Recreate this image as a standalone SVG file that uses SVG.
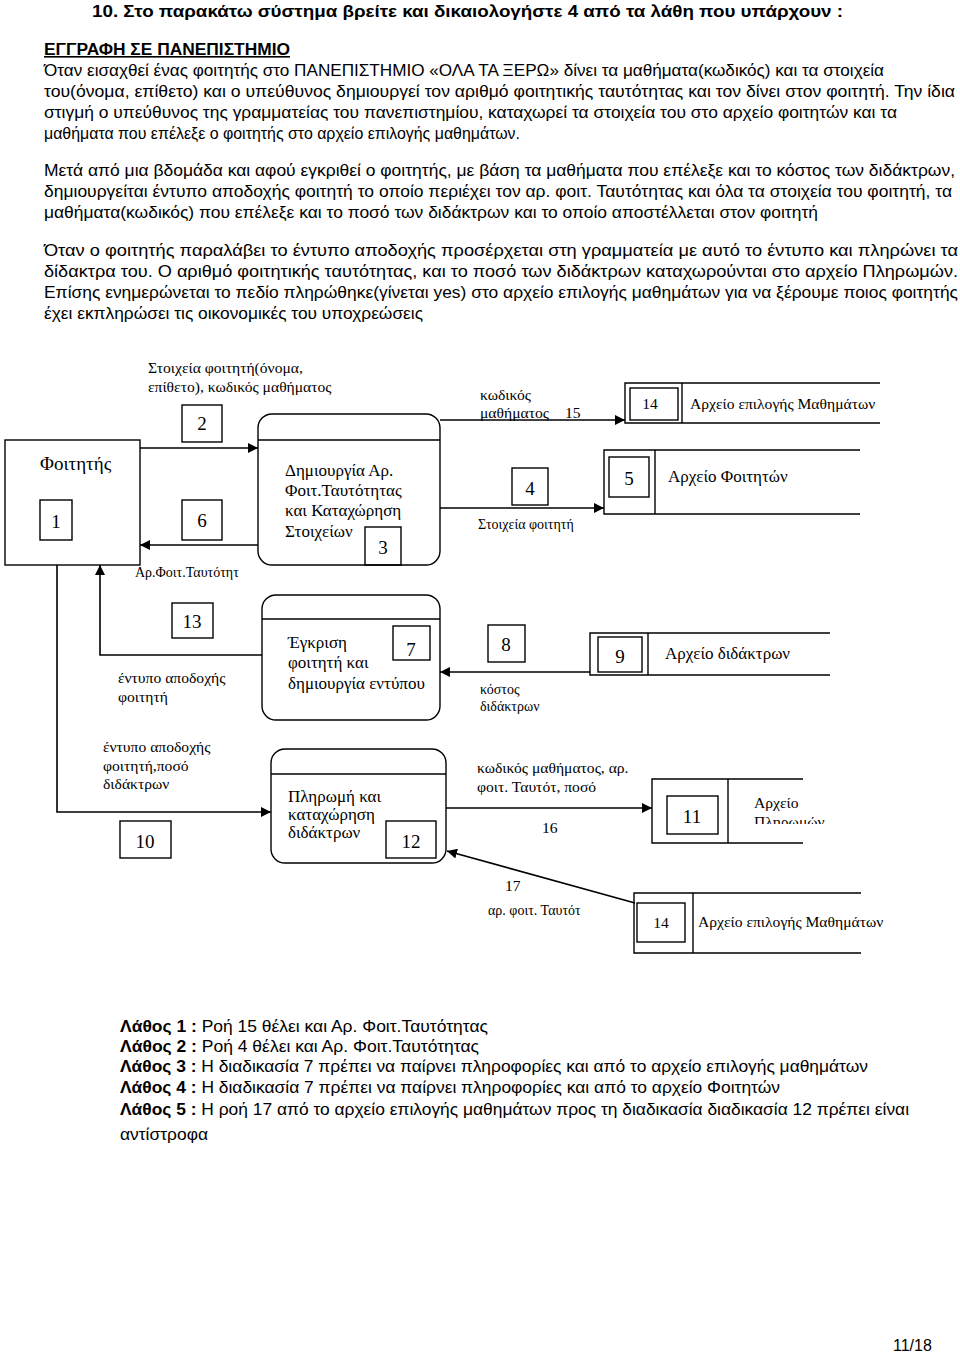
<svg xmlns="http://www.w3.org/2000/svg" width="960" height="1357" viewBox="0 0 960 1357">
<defs>
<marker id="ah" viewBox="0 0 10 10" refX="10" refY="5" markerWidth="10" markerHeight="10" markerUnits="userSpaceOnUse" orient="auto"><path d="M0,0 L10,5 L0,10 z" fill="#000"/></marker>
<clipPath id="clip11"><rect x="740" y="790" width="120" height="34"/></clipPath>
</defs>
<style>
.h{font-family:"Liberation Sans",Arial,sans-serif;font-size:16px;fill:#000}
.b{font-weight:bold}
.t{font-family:"Liberation Serif","Times New Roman",serif;font-size:15.6px;fill:#000}
.s{font-family:"Liberation Serif","Times New Roman",serif;font-size:14px;fill:#000}
.p{font-family:"Liberation Serif","Times New Roman",serif;font-size:17px;fill:#000}
.tl{font-family:"Liberation Serif","Times New Roman",serif;font-size:19px;fill:#000}
.ln{stroke:#000;stroke-width:1.6;fill:none}
.bx{stroke:#000;stroke-width:1.4;fill:none}
</style>
<rect width="960" height="1357" fill="#fff"/>
<g id="header">
<text class="h b" x="92" y="17" textLength="751" lengthAdjust="spacingAndGlyphs">10. Στο παρακάτω σύστημα βρείτε και δικαιολογήστε 4 από τα λάθη που υπάρχουν :</text>
<text class="h b" x="44" y="55" textLength="246" lengthAdjust="spacingAndGlyphs" text-decoration="underline">ΕΓΓΡΑΦΗ ΣΕ ΠΑΝΕΠΙΣΤΗΜΙΟ</text>
<text class="h" x="44" y="76" textLength="840" lengthAdjust="spacingAndGlyphs">Όταν εισαχθεί ένας φοιτητής στο ΠΑΝΕΠΙΣΤΗΜΙΟ «ΟΛΑ ΤΑ ΞΕΡΩ» δίνει τα μαθήματα(κωδικός) και τα στοιχεία</text>
<text class="h" x="44" y="97" textLength="911" lengthAdjust="spacingAndGlyphs">του(όνομα, επίθετο) και ο υπεύθυνος δημιουργεί τον αριθμό φοιτητικής ταυτότητας και τον δίνει στον φοιτητή. Την ίδια</text>
<text class="h" x="44" y="118" textLength="853" lengthAdjust="spacingAndGlyphs">στιγμή ο υπεύθυνος της γραμματείας του πανεπιστημίου, καταχωρεί τα στοιχεία του στο αρχείο φοιτητών και τα</text>
<text class="h" x="44" y="139" textLength="476" lengthAdjust="spacingAndGlyphs">μαθήματα που επέλεξε ο φοιτητής στο αρχείο επιλογής μαθημάτων.</text>
<text class="h" x="44" y="176" textLength="911" lengthAdjust="spacingAndGlyphs">Μετά από μια βδομάδα και αφού εγκριθεί ο φοιτητής, με βάση τα μαθήματα που επέλεξε και το κόστος των διδάκτρων,</text>
<text class="h" x="44" y="197" textLength="908" lengthAdjust="spacingAndGlyphs">δημιουργείται έντυπο αποδοχής φοιτητή το οποίο περιέχει τον αρ. φοιτ. Ταυτότητας και όλα τα στοιχεία του φοιτητή, τα</text>
<text class="h" x="44" y="218" textLength="774" lengthAdjust="spacingAndGlyphs">μαθήματα(κωδικός) που επέλεξε και το ποσό των διδάκτρων και το οποίο αποστέλλεται στον φοιτητή</text>
<text class="h" x="44" y="256" textLength="914" lengthAdjust="spacingAndGlyphs">Όταν ο φοιτητής παραλάβει το έντυπο αποδοχής προσέρχεται στη γραμματεία με αυτό το έντυπο και πληρώνει τα</text>
<text class="h" x="44" y="277" textLength="914" lengthAdjust="spacingAndGlyphs">δίδακτρα του. Ο αριθμό φοιτητικής ταυτότητας, και το ποσό των διδάκτρων καταχωρούνται στο αρχείο Πληρωμών.</text>
<text class="h" x="44" y="298" textLength="914" lengthAdjust="spacingAndGlyphs">Επίσης ενημερώνεται το πεδίο πληρώθηκε(γίνεται yes) στο αρχείο επιλογής μαθημάτων για να ξέρουμε ποιος φοιτητής</text>
<text class="h" x="44" y="319" textLength="379" lengthAdjust="spacingAndGlyphs">έχει εκπληρώσει τις οικονομικές του υποχρεώσεις</text>
</g>
<g id="connectors">
<line class="ln" x1="140" y1="448" x2="258" y2="448" marker-end="url(#ah)"/>
<line class="ln" x1="258" y1="545" x2="140" y2="545" marker-end="url(#ah)"/>
<line class="ln" x1="440" y1="420" x2="625" y2="420" marker-end="url(#ah)"/>
<line class="ln" x1="440" y1="508" x2="604" y2="508" marker-end="url(#ah)"/>
<polyline class="ln" points="262,655 100,655 100,565" marker-end="url(#ah)"/>
<line class="ln" x1="590" y1="672" x2="440" y2="672" marker-end="url(#ah)"/>
<polyline class="ln" points="57,565 57,812 271,812" marker-end="url(#ah)"/>
<line class="ln" x1="446" y1="808" x2="652" y2="808" marker-end="url(#ah)"/>
<line class="ln" x1="635" y1="903" x2="447" y2="851" marker-end="url(#ah)"/>
</g>
<g id="n1">
<rect class="bx" x="5" y="440" width="135" height="125"/>
<text class="tl" x="40" y="470">Φοιτητής</text>
<rect class="bx" x="40" y="500" width="32" height="40"/>
<text class="tl" x="56" y="528" text-anchor="middle">1</text>
</g>
<g id="f2">
<text class="t" x="148" y="373">Στοιχεία φοιτητή(όνομα,</text>
<text class="t" x="148" y="392">επίθετο), κωδικός μαθήματος</text>
<rect class="bx" x="182" y="405" width="40" height="37"/>
<text class="tl" x="202" y="430" text-anchor="middle">2</text>
</g>
<g id="f6">
<rect class="bx" x="182" y="500" width="40" height="40"/>
<text class="tl" x="202" y="527" text-anchor="middle">6</text>
<text class="s" x="135" y="577">Αρ.Φοιτ.Ταυτότητ</text>
</g>
<g id="n3">
<rect class="bx" x="258" y="414" width="182" height="151" rx="14"/>
<line class="bx" x1="258" y1="440" x2="440" y2="440"/>
<text class="p" x="285" y="476">Δημιουργία Αρ.</text>
<text class="p" x="285" y="496">Φοιτ.Ταυτότητας</text>
<text class="p" x="285" y="516">και Καταχώρηση</text>
<text class="p" x="285" y="537">Στοιχείων</text>
<rect class="bx" x="365" y="527" width="36" height="38"/>
<text class="tl" x="383" y="554" text-anchor="middle">3</text>
</g>
<g id="f15">
<text class="t" x="480" y="400">κωδικός</text>
<text class="t" x="480" y="418">μαθήματος</text>
<text class="t" x="565" y="418">15</text>
</g>
<g id="f4">
<rect class="bx" x="512" y="468" width="36" height="37"/>
<text class="tl" x="530" y="495" text-anchor="middle">4</text>
<text class="s" x="478" y="529">Στοιχεία φοιτητή</text>
</g>
<g id="n14a">
<polyline class="bx" points="880,383 625,383 625,423 880,423"/>
<line class="bx" x1="682" y1="383" x2="682" y2="423"/>
<rect class="bx" x="630" y="388" width="48" height="32"/>
<text class="t" x="650" y="409" text-anchor="middle">14</text>
<text class="t" x="690" y="409">Αρχείο   επιλογής Μαθημάτων</text>
</g>
<g id="n5">
<polyline class="bx" points="860,450 604,450 604,514 860,514"/>
<line class="bx" x1="655" y1="450" x2="655" y2="514"/>
<rect class="bx" x="609" y="457" width="40" height="40"/>
<text class="tl" x="629" y="485" text-anchor="middle">5</text>
<text class="p" x="668" y="482">Αρχείο Φοιτητών</text>
</g>
<g id="f13">
<rect class="bx" x="172" y="603" width="41" height="35"/>
<text class="tl" x="192" y="628" text-anchor="middle">13</text>
<text class="t" x="118" y="683">έντυπο αποδοχής</text>
<text class="t" x="118" y="702">φοιτητή</text>
</g>
<g id="n7">
<rect class="bx" x="262" y="595" width="178" height="125" rx="14"/>
<line class="bx" x1="262" y1="619" x2="440" y2="619"/>
<text class="p" x="288" y="648">Έγκριση</text>
<text class="p" x="288" y="668">φοιτητή και</text>
<text class="p" x="288" y="689">δημιουργία εντύπου</text>
<rect class="bx" x="393" y="626" width="37" height="34"/>
<text class="tl" x="411" y="656" text-anchor="middle">7</text>
</g>
<g id="f8">
<rect class="bx" x="488" y="625" width="37" height="37"/>
<text class="tl" x="506" y="651" text-anchor="middle">8</text>
<text class="s" x="480" y="694">κόστος</text>
<text class="s" x="480" y="711">διδάκτρων</text>
</g>
<g id="n9">
<polyline class="bx" points="830,633 590,633 590,675 830,675"/>
<line class="bx" x1="648" y1="633" x2="648" y2="675"/>
<rect class="bx" x="598" y="637" width="44" height="35"/>
<text class="tl" x="620" y="663" text-anchor="middle">9</text>
<text class="p" x="665" y="659">Αρχείο διδάκτρων</text>
</g>
<g id="f10">
<text class="t" x="103" y="752">έντυπο αποδοχής</text>
<text class="t" x="103" y="771">φοιτητή,ποσό</text>
<text class="t" x="103" y="789">διδάκτρων</text>
<rect class="bx" x="120" y="821" width="51" height="37"/>
<text class="tl" x="145" y="848" text-anchor="middle">10</text>
</g>
<g id="n12">
<rect class="bx" x="271" y="749" width="175" height="114" rx="14"/>
<line class="bx" x1="271" y1="774" x2="446" y2="774"/>
<text class="p" x="288" y="802">Πληρωμή και</text>
<text class="p" x="288" y="820">καταχώρηση</text>
<text class="p" x="288" y="838">διδάκτρων</text>
<rect class="bx" x="386" y="821" width="50" height="37"/>
<text class="tl" x="411" y="848" text-anchor="middle">12</text>
</g>
<g id="f16">
<text class="t" x="477" y="773">κωδικός μαθήματος, αρ.</text>
<text class="t" x="477" y="792">φοιτ. Ταυτότ, ποσό</text>
<text class="t" x="542" y="833">16</text>
</g>
<g id="n11">
<polyline class="bx" points="803,779 652,779 652,843 803,843"/>
<line class="bx" x1="728" y1="779" x2="728" y2="843"/>
<rect class="bx" x="667" y="796" width="51" height="38"/>
<text class="tl" x="692" y="823" text-anchor="middle">11</text>
<text class="t" x="754" y="808">Αρχείο</text>
<text class="t" x="754" y="827" clip-path="url(#clip11)">Πληρωμών</text>
</g>
<g id="f17">
<text class="t" x="505" y="891">17</text>
<text class="s" x="488" y="915">αρ. φοιτ. Ταυτότ</text>
</g>
<g id="n14b">
<polyline class="bx" points="861,893 634,893 634,953 861,953"/>
<line class="bx" x1="693" y1="893" x2="693" y2="953"/>
<rect class="bx" x="637" y="903" width="48" height="39"/>
<text class="t" x="661" y="928" text-anchor="middle">14</text>
<text class="t" x="698" y="927">Αρχείο   επιλογής Μαθημάτων</text>
</g>
<g id="errors">
<text class="h" x="120" y="1032" textLength="368" lengthAdjust="spacingAndGlyphs"><tspan class="b">Λάθος 1 :</tspan> Ροή 15 θέλει και Αρ. Φοιτ.Ταυτότητας</text>
<text class="h" x="120" y="1052" textLength="359" lengthAdjust="spacingAndGlyphs"><tspan class="b">Λάθος 2 :</tspan> Ροή 4 θέλει και Αρ. Φοιτ.Ταυτότητας</text>
<text class="h" x="120" y="1072" textLength="748" lengthAdjust="spacingAndGlyphs"><tspan class="b">Λάθος 3 :</tspan> Η διαδικασία 7 πρέπει να παίρνει πληροφορίες και από το αρχείο επιλογής μαθημάτων</text>
<text class="h" x="120" y="1093" textLength="660" lengthAdjust="spacingAndGlyphs"><tspan class="b">Λάθος 4 :</tspan> Η διαδικασία 7 πρέπει να παίρνει πληροφορίες και από το αρχείο Φοιτητών</text>
<text class="h" x="120" y="1115" textLength="789" lengthAdjust="spacingAndGlyphs"><tspan class="b">Λάθος 5 :</tspan> Η ροή 17 από το αρχείο επιλογής μαθημάτων προς τη διαδικασία διαδικασία 12 πρέπει είναι</text>
<text class="h" x="120" y="1140" textLength="88" lengthAdjust="spacingAndGlyphs">αντίστροφα</text>
<text class="h" x="893" y="1351">11/18</text>
</g>
</svg>
